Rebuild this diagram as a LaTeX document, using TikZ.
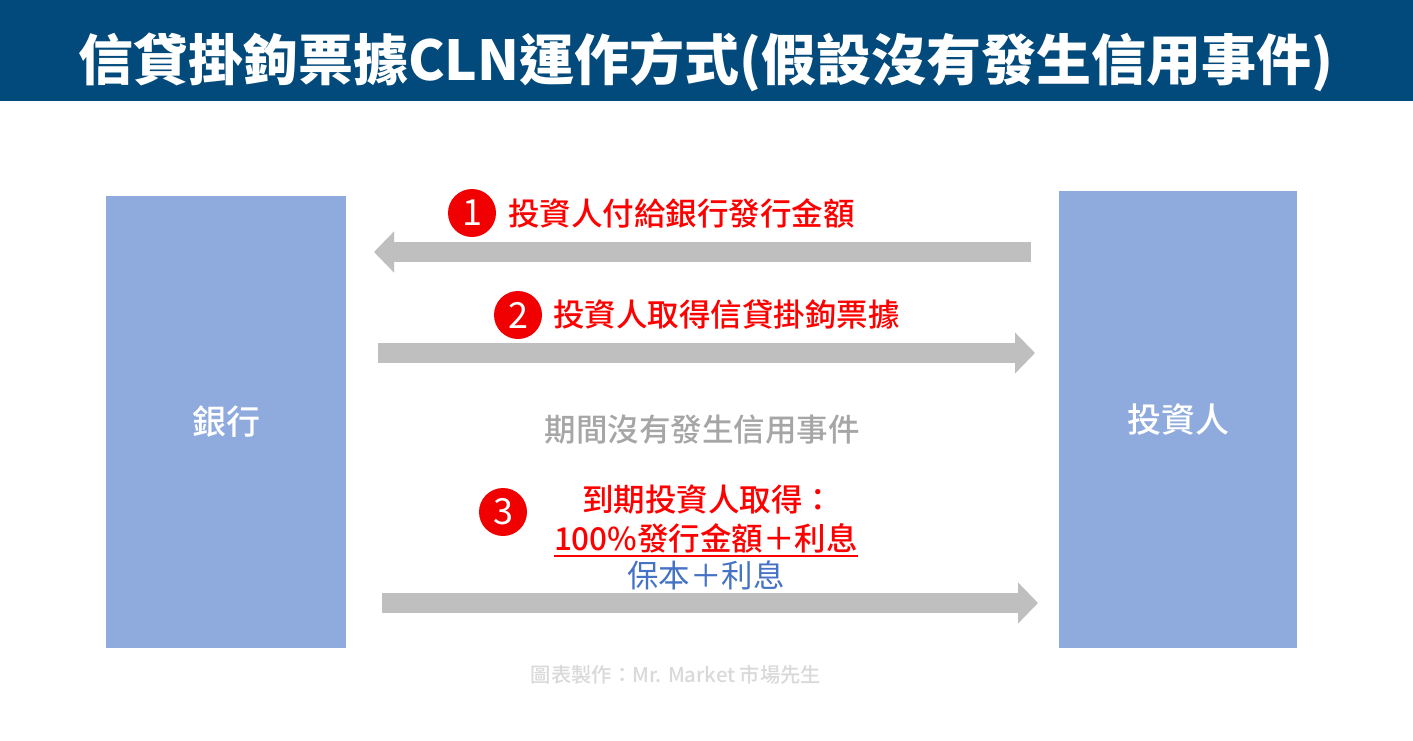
\documentclass[tikz,border=0pt]{standalone}
\usepackage{fontspec}
\setmainfont{Noto Sans CJK TC}
\newfontfamily\medfont{Noto Sans CJK TC Medium}
\usetikzlibrary{arrows.meta}
\definecolor{titlebg}{HTML}{024A7B}
\definecolor{boxblue}{HTML}{8FAADC}
\definecolor{arrowgray}{HTML}{BFBFBF}
\definecolor{labelred}{HTML}{FF0000}
\definecolor{circred}{HTML}{F00000}
\definecolor{midgray}{HTML}{A6A6A6}
\definecolor{textblue}{HTML}{4472C4}
\definecolor{footgray}{HTML}{D9D9D9}
\tikzset{
  party/.style={fill=boxblue, inner sep=0pt, text=white, font=\fontsize{34}{40}\selectfont\medfont},
  flow/.style={arrowgray, line width=20pt, -{Triangle[length=20pt,width=40pt]}},
  numdot/.style={circle, fill=circred, minimum size=48pt, inner sep=0pt, text=white, font=\fontsize{36}{40}\selectfont},
  steplabel/.style={inner sep=0pt, text=labelred, font=\fontsize{31.5}{36}\selectfont\medfont},
}
\begin{document}
\begin{tikzpicture}[x=1pt,y=-1pt]
\useasboundingbox (0,0) rectangle (1413,740);
\fill[white] (0,0) rectangle (1413,740);
% title bar
\fill[titlebg] (0,0) rectangle (1413,101);
\node[inner sep=0pt, text=white, font=\fontsize{55}{60}\selectfont\bfseries] (title) at (706,62) {信貸掛鉤票據CLN運作方式(假設沒有發生信用事件)};
% parties
\node[party, minimum width=240pt, minimum height=452pt] (bank) at (226,422) {銀行};
\node[party, minimum width=238pt, minimum height=457pt] (inv) at (1178,419.5) {投資人};
% arrows
\coordinate (a1s) at (1031,252);
\coordinate (a1e) at (374,252);
\coordinate (a2s) at (378,353);
\coordinate (a2e) at (1035,353);
\coordinate (a3s) at (382,603);
\coordinate (a3e) at (1038,603);
\draw[flow] (a1s) -- (a1e);
\draw[flow] (a2s) -- (a2e);
\draw[flow] (a3s) -- (a3e);
% step 1
\node[numdot] (n1) at (472,213) {1};
\node[steplabel, anchor=west] (l1) at (508,213) {投資人付給銀行發行金額};
% step 2
\node[numdot] (n2) at (518,315) {2};
\node[steplabel, anchor=west] (l2) at (553,314) {投資人取得信貸掛鉤票據};
% middle note
\node[inner sep=0pt, text=midgray, font=\fontsize{31.5}{36}\selectfont\medfont] (mid) at (702,430) {期間沒有發生信用事件};
% step 3
\node[numdot] (n3) at (503,512) {3};
\node[steplabel] (l3a) at (708,500) {到期投資人取得：};
\node[steplabel] (l3b) at (706,538) {100\%發行金額＋利息};
\draw[labelred, line width=2pt] (l3b.south west) ++(0,3) coordinate (u1) -- (u1 -| l3b.south east);
\node[inner sep=0pt, text=textblue, font=\fontsize{31.5}{36}\selectfont] (l3c) at (706,575) {保本＋利息};
% footer
\node[inner sep=0pt, text=footgray, font=\fontsize{20.3}{24}\selectfont\medfont] (foot) at (676,675) {圖表製作：Mr. Market 市場先生};
\end{tikzpicture}
\end{document}
